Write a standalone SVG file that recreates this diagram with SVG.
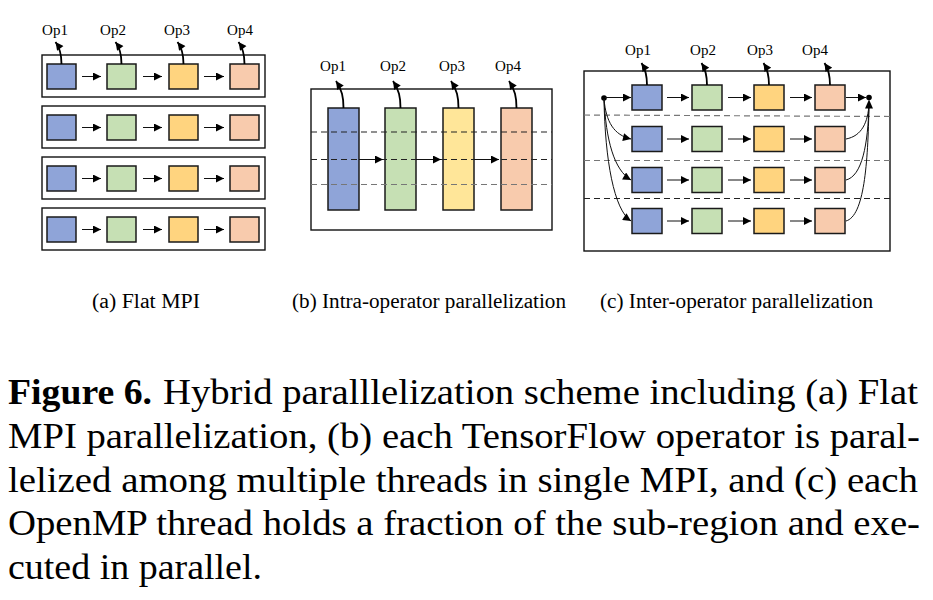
<svg xmlns="http://www.w3.org/2000/svg" width="933" height="600" viewBox="0 0 933 600">
<style>
.bg{fill:#ffffff}
.frame{fill:none;stroke:#111;stroke-width:1.4}
.b{fill:#8FA4D8;stroke:#1a1a1a;stroke-width:1.5}
.g{fill:#C6E0B4;stroke:#1a1a1a;stroke-width:1.5}
.y{fill:#FFD47F;stroke:#1a1a1a;stroke-width:1.5}
.yl{fill:#FFE699;stroke:#1a1a1a;stroke-width:1.5}
.o{fill:#F8CBAD;stroke:#1a1a1a;stroke-width:1.5}
.ar{fill:none;stroke:#111;stroke-width:1;marker-end:url(#ah)}
.op{fill:none;stroke:#000;stroke-width:1.8;marker-end:url(#oh)}
.dk{stroke:#222;stroke-width:1.2;stroke-dasharray:6 4;fill:none}
.gr{stroke:#777;stroke-width:1.2;stroke-dasharray:6 4;fill:none}
.lbl{font-family:"Liberation Serif","Times New Roman",serif;font-size:15px;fill:#000;text-anchor:middle}
.cap{font-family:"Liberation Serif","Times New Roman",serif;font-size:20px;fill:#000}
.fig{font-family:"Liberation Serif","Times New Roman",serif;font-size:35px;fill:#000}
</style>
<defs>
<marker id="ah" viewBox="0 0 10 10" refX="10" refY="5" markerWidth="9" markerHeight="8" markerUnits="userSpaceOnUse" orient="auto">
<path d="M0,0 L10,5 L0,10 z" fill="#000"/>
</marker>
<marker id="oh" viewBox="0 0 10 10" refX="10" refY="5" markerWidth="9" markerHeight="8" markerUnits="userSpaceOnUse" orient="auto">
<path d="M0,0 L10,5 L0,10 z" fill="#000"/>
</marker>
</defs>
<rect class="bg" x="0" y="0" width="933" height="600"/>

<!-- Panel (a) -->
<g id="panel-a">
<text class="lbl" x="55" y="35">Op1</text>
<text class="lbl" x="113" y="35">Op2</text>
<text class="lbl" x="177" y="35">Op3</text>
<text class="lbl" x="240" y="35">Op4</text>
<g id="a-row1">
<rect class="frame" x="42" y="55" width="223" height="42"/>
<rect class="b" x="47" y="64" width="29" height="25"/>
<rect class="g" x="107" y="64" width="29" height="25"/>
<rect class="y" x="169" y="64" width="29" height="25"/>
<rect class="o" x="230" y="64" width="29" height="25"/>
</g>
<g id="a-row2">
<rect class="frame" x="42" y="106" width="223" height="42"/>
<rect class="b" x="47" y="115" width="29" height="25"/>
<rect class="g" x="107" y="115" width="29" height="25"/>
<rect class="y" x="169" y="115" width="29" height="25"/>
<rect class="o" x="230" y="115" width="29" height="25"/>
</g>
<g id="a-row3">
<rect class="frame" x="42" y="157" width="223" height="42"/>
<rect class="b" x="47" y="166" width="29" height="25"/>
<rect class="g" x="107" y="166" width="29" height="25"/>
<rect class="y" x="169" y="166" width="29" height="25"/>
<rect class="o" x="230" y="166" width="29" height="25"/>
</g>
<g id="a-row4">
<rect class="frame" x="42" y="208" width="223" height="42"/>
<rect class="b" x="47" y="217" width="29" height="25"/>
<rect class="g" x="107" y="217" width="29" height="25"/>
<rect class="y" x="169" y="217" width="29" height="25"/>
<rect class="o" x="230" y="217" width="29" height="25"/>
</g>
</g>

<!-- Panel (b) -->
<g id="panel-b">
<rect class="frame" x="311" y="89" width="241" height="141"/>
<text class="lbl" x="333" y="71">Op1</text>
<text class="lbl" x="393" y="71">Op2</text>
<text class="lbl" x="452" y="71">Op3</text>
<text class="lbl" x="508" y="71">Op4</text>
<rect class="b" x="328" y="108" width="31" height="102"/>
<rect class="g" x="385" y="108" width="31" height="102"/>
<rect class="yl" x="443" y="108" width="31" height="102"/>
<rect class="o" x="501" y="108" width="31" height="102"/>
<line class="dk" x1="311" y1="132" x2="552" y2="132"/>
<line class="dk" x1="311" y1="159.5" x2="552" y2="159.5"/>
<line class="gr" x1="311" y1="184.5" x2="552" y2="184.5"/>
</g>

<!-- Panel (c) -->
<g id="panel-c">
<rect class="frame" x="584" y="71" width="306" height="180"/>
<text class="lbl" x="638" y="55">Op1</text>
<text class="lbl" x="703" y="55">Op2</text>
<text class="lbl" x="760" y="55">Op3</text>
<text class="lbl" x="815" y="55">Op4</text>
<line class="gr" x1="584" y1="115" x2="890" y2="116.5"/>
<line class="gr" x1="584" y1="160.5" x2="890" y2="160.5"/>
<line class="dk" x1="584" y1="198.5" x2="890" y2="198.5"/>
<g id="c-row1">
<rect class="b" x="632" y="85" width="30" height="25"/>
<rect class="g" x="692" y="85" width="30" height="25"/>
<rect class="y" x="754" y="85" width="30" height="25"/>
<rect class="o" x="815" y="85" width="30" height="25"/>
</g>
<g id="c-row2">
<rect class="b" x="632" y="126.5" width="30" height="25"/>
<rect class="g" x="692" y="126.5" width="30" height="25"/>
<rect class="y" x="754" y="126.5" width="30" height="25"/>
<rect class="o" x="815" y="126.5" width="30" height="25"/>
</g>
<g id="c-row3">
<rect class="b" x="632" y="167.5" width="30" height="25"/>
<rect class="g" x="692" y="167.5" width="30" height="25"/>
<rect class="y" x="754" y="167.5" width="30" height="25"/>
<rect class="o" x="815" y="167.5" width="30" height="25"/>
</g>
<g id="c-row4">
<rect class="b" x="632" y="208.5" width="30" height="25"/>
<rect class="g" x="692" y="208.5" width="30" height="25"/>
<rect class="y" x="754" y="208.5" width="30" height="25"/>
<rect class="o" x="815" y="208.5" width="30" height="25"/>
</g>
<circle id="source" cx="604" cy="98" r="2.8" fill="#000"/>
<circle id="sink" cx="869" cy="97.5" r="2.8" fill="#000"/>
</g>

<!-- Connectors -->
<g id="connectors">
<!-- Op arrows panel a -->
<path class="op" d="M61.5,64 C61.5,54 60,48 55.5,42"/>
<path class="op" d="M121.5,64 C121.5,54 120,48 115.5,42"/>
<path class="op" d="M183.5,64 C183.5,54 182,48 177.5,42"/>
<path class="op" d="M244.5,64 C244.5,54 243,48 238.5,42"/>
<!-- row arrows panel a -->
<line class="ar" x1="82" y1="76.5" x2="101" y2="76.5"/>
<line class="ar" x1="143" y1="76.5" x2="162" y2="76.5"/>
<line class="ar" x1="204" y1="76.5" x2="224" y2="76.5"/>
<line class="ar" x1="82" y1="127.5" x2="101" y2="127.5"/>
<line class="ar" x1="143" y1="127.5" x2="162" y2="127.5"/>
<line class="ar" x1="204" y1="127.5" x2="224" y2="127.5"/>
<line class="ar" x1="82" y1="178.5" x2="101" y2="178.5"/>
<line class="ar" x1="143" y1="178.5" x2="162" y2="178.5"/>
<line class="ar" x1="204" y1="178.5" x2="224" y2="178.5"/>
<line class="ar" x1="82" y1="229.5" x2="101" y2="229.5"/>
<line class="ar" x1="143" y1="229.5" x2="162" y2="229.5"/>
<line class="ar" x1="204" y1="229.5" x2="224" y2="229.5"/>
<!-- panel b -->
<path class="op" d="M343.5,108 C343.5,97 342,90 336,81"/>
<path class="op" d="M400.5,108 C400.5,97 399,90 393,81"/>
<path class="op" d="M458.5,108 C458.5,97 457,90 451,81"/>
<path class="op" d="M516.5,108 C516.5,97 515,90 509,81"/>
<line class="ar" x1="359" y1="159.5" x2="383" y2="159.5"/>
<line class="ar" x1="416" y1="159.5" x2="441" y2="159.5"/>
<line class="ar" x1="474" y1="159.5" x2="499" y2="159.5"/>
<!-- panel c -->
<path class="op" d="M647,85 C647,76 646,70 641.5,63"/>
<path class="op" d="M707,85 C707,76 706,70 701.5,63"/>
<path class="op" d="M769,85 C769,76 768,70 763.5,63"/>
<path class="op" d="M830,85 C830,76 829,70 824.5,63"/>
<line class="ar" x1="605" y1="97.5" x2="631" y2="97.5"/>
<line class="ar" x1="667" y1="97.5" x2="689" y2="97.5"/>
<line class="ar" x1="728" y1="97.5" x2="751" y2="97.5"/>
<line class="ar" x1="790" y1="97.5" x2="812" y2="97.5"/>
<line class="ar" x1="846" y1="97.5" x2="866" y2="97.5"/>
<line class="ar" x1="667" y1="139" x2="689" y2="139"/>
<line class="ar" x1="728" y1="139" x2="751" y2="139"/>
<line class="ar" x1="790" y1="139" x2="812" y2="139"/>
<line class="ar" x1="667" y1="180" x2="689" y2="180"/>
<line class="ar" x1="728" y1="180" x2="751" y2="180"/>
<line class="ar" x1="790" y1="180" x2="812" y2="180"/>
<line class="ar" x1="667" y1="221" x2="689" y2="221"/>
<line class="ar" x1="728" y1="221" x2="751" y2="221"/>
<line class="ar" x1="790" y1="221" x2="812" y2="221"/>
<path class="ar" d="M604,99 C606,122 614,135 631,139"/>
<path class="ar" d="M604,99 C606,140 614,170 631,180"/>
<path class="ar" d="M604,99 C605,160 614,210 631,221"/>
<path fill="none" stroke="#111" stroke-width="1" d="M846,139 C862,136 868,122 869,104"/>
<path fill="none" stroke="#111" stroke-width="1" d="M846,180 C862,176 868,145 869,104"/>
<path fill="none" stroke="#111" stroke-width="1" d="M846,221 C864,216 868,165 869,104"/>
<path d="M869,99.5 L873,108.5 L865,108.5 z" fill="#000"/>
</g>

<!-- Sub-captions -->
<g id="subcaptions">
<text class="cap" x="92" y="308" textLength="108" lengthAdjust="spacingAndGlyphs">(a) Flat MPI</text>
<text class="cap" x="292" y="308" textLength="274" lengthAdjust="spacingAndGlyphs">(b) Intra-operator parallelization</text>
<text class="cap" x="600" y="308" textLength="273" lengthAdjust="spacingAndGlyphs">(c) Inter-operator parallelization</text>
</g>

<!-- Figure caption -->
<g id="caption">
<text class="fig" x="8" y="404" font-weight="bold" textLength="144" lengthAdjust="spacingAndGlyphs">Figure 6.</text>
<text class="fig" x="163" y="404" textLength="755" lengthAdjust="spacingAndGlyphs">Hybrid paralllelization scheme including (a) Flat</text>
<text class="fig" x="8" y="448" textLength="912" lengthAdjust="spacingAndGlyphs">MPI parallelization, (b) each TensorFlow operator is paral-</text>
<text class="fig" x="8" y="492" textLength="910" lengthAdjust="spacingAndGlyphs">lelized among multiple threads in single MPI, and (c) each</text>
<text class="fig" x="8" y="535" textLength="912" lengthAdjust="spacingAndGlyphs">OpenMP thread holds a fraction of the sub-region and exe-</text>
<text class="fig" x="8" y="579" textLength="254" lengthAdjust="spacingAndGlyphs">cuted in parallel.</text>
</g>
</svg>
